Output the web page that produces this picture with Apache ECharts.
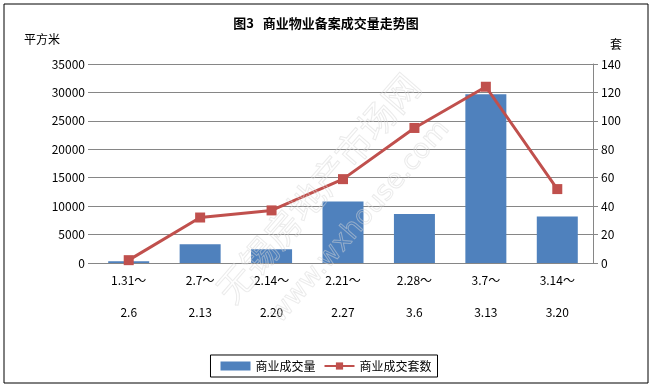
<!DOCTYPE html>
<html><head><meta charset="utf-8">
<script src="https://cdn.jsdelivr.net/npm/echarts@6/dist/echarts.min.js"></script>
<style>html,body{margin:0;padding:0;background:#fff}#c{width:652px;height:389px}</style>
</head><body><div id="c"></div>
<script>
var categories = ['1.31～\n2.6','2.7～\n2.13','2.14～\n2.20','2.21～\n2.27','2.28～\n3.6','3.7～\n3.13','3.14～\n3.20'];
var areaValues = [300, 3300, 2400, 10800, 8600, 29700, 8200];
var unitValues = [2, 32, 37, 59, 95, 124, 52];
var leftTicks = [0, 35000, 5000];
var rightTicks = [0, 140, 20];
var FONT = '"Noto Sans CJK SC", sans-serif';
var chart = echarts.init(document.getElementById('c'));
chart.setOption({
  animation: false,
  textStyle: {fontFamily: FONT},
  title: {text: '图3   商业物业备案成交量走势图', left: 'center', top: 12,
    textStyle: {fontSize: 13, fontWeight: 'bold', color: '#000', fontFamily: FONT}},
  grid: {left: 93, right: 59, top: 64, bottom: 126},
  legend: {bottom: 12, left: 'center', itemWidth: 30, itemHeight: 9, itemGap: 8,
    borderColor: '#000', borderWidth: 1, padding: [5, 6, 5, 10],
    textStyle: {fontSize: 12, color: '#000'},
    data: [{name: '商业成交量', icon: 'rect'}, {name: '商业成交套数'}]},
  xAxis: {type: 'category', data: categories,
    axisLine: {lineStyle: {color: '#868686'}}, axisTick: {show: false},
    axisLabel: {color: '#000', fontSize: 12, lineHeight: 32, margin: 1, interval: 0}},
  yAxis: [
    {type: 'value', min: leftTicks[0], max: leftTicks[1], interval: leftTicks[2],
      axisLine: {show: false}, axisTick: {show: true, length: 5, lineStyle: {color: '#868686'}},
      splitLine: {lineStyle: {color: '#868686'}},
      axisLabel: {color: '#000', fontSize: 12, margin: 8, formatter: function (v) { return String(v); }}},
    {type: 'value', min: rightTicks[0], max: rightTicks[1], interval: rightTicks[2],
      axisLine: {show: true, lineStyle: {color: '#868686'}},
      axisTick: {show: true, length: 5, lineStyle: {color: '#868686'}},
      splitLine: {show: false},
      axisLabel: {color: '#000', fontSize: 12, margin: 8, formatter: function (v) { return String(v); }}}
  ],
  series: [
    {name: '商业成交量', type: 'bar', data: areaValues, barWidth: 41,
      itemStyle: {color: '#4F81BD'}},
    {name: '商业成交套数', type: 'line', yAxisIndex: 1, data: unitValues,
      symbol: 'rect', symbolSize: 10,
      lineStyle: {color: '#C0504D', width: 3}, itemStyle: {color: '#C0504D'}}
  ],
  graphic: [
    {type: 'rect', shape: {x: 4, y: 4, width: 644, height: 379},
      style: {fill: 'none', stroke: '#000', lineWidth: 1}, silent: true},
    {type: 'text', left: 24, top: 33, style: {text: '平方米', fontSize: 12, fill: '#000', fontFamily: FONT}},
    {type: 'text', left: 610, top: 38, style: {text: '套', fontSize: 12, fill: '#000', fontFamily: FONT}},
    {type: 'text', x: 318, y: 188, rotation: 0.855, z: 100,
      style: {text: '无锡房地产市场网', fontSize: 36, fill: 'rgba(255,255,255,0)', stroke: 'rgba(215,215,215,0.5)', lineWidth: 1,
        align: 'center', verticalAlign: 'middle', fontFamily: FONT}},
    {type: 'text', x: 360, y: 222, rotation: 0.855, z: 100,
      style: {text: 'www.wxhouse.com', fontSize: 27, fill: 'rgba(255,255,255,0)', stroke: 'rgba(215,215,215,0.5)', lineWidth: 1,
        align: 'center', verticalAlign: 'middle', fontFamily: 'DejaVu Sans'}}
  ]
});
</script></body></html>
